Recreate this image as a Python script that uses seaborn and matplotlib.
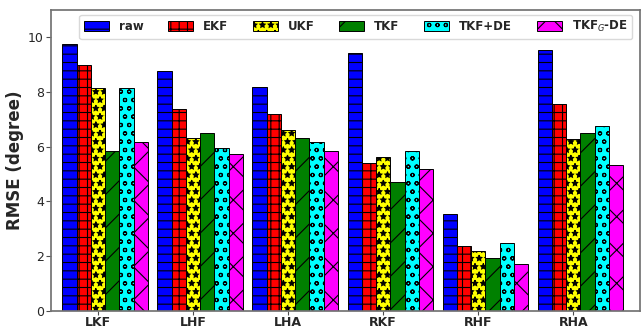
import matplotlib
matplotlib.use("Agg")
import matplotlib.pyplot as plt
import seaborn as sns
import pandas as pd
import numpy as np

sns.set_theme(style="ticks")
plt.rcParams['font.family'] = ['DejaVu Sans']

joints = ['LKF', 'LHF', 'LHA', 'RKF', 'RHF', 'RHA']
methods = ['raw', 'EKF', 'UKF', 'TKF', 'TKF+DE', 'TKF$_G$-DE']

raw = [9.75, 8.76, 8.18, 9.42, 3.54, 9.53]
ekf = [8.98, 7.37, 7.19, 5.40, 2.37, 7.55]
ukf = [8.14, 6.31, 6.60, 5.62, 2.19, 6.28]
tkf = [5.84, 6.50, 6.31, 4.71, 1.93, 6.50]
tkf_de = [8.14, 5.95, 6.17, 5.84, 2.48, 6.75]
tkfg_de = [6.17, 5.73, 5.84, 5.18, 1.72, 5.33]

colors = ['blue', 'red', 'yellow', 'green', 'cyan', 'magenta']
hatches = ['--', '++', '**', '/', 'oo', 'x']

series = [raw, ekf, ukf, tkf, tkf_de, tkfg_de]
df = pd.DataFrame({
    'joint': np.repeat([joints], len(methods), axis=0).ravel(),
    'method': np.repeat(methods, len(joints)),
    'rmse': np.concatenate(series),
})

plt.rcParams['hatch.linewidth'] = 0.8
fig, ax = plt.subplots(figsize=(6.43, 3.29), dpi=100)

sns.barplot(data=df, x='joint', y='rmse', hue='method', order=joints,
            hue_order=methods, palette=colors, width=0.9, saturation=1,
            edgecolor='black', linewidth=0.7, legend=False, ax=ax)

for cont, h in zip(ax.containers, hatches):
    for bar in cont:
        bar.set_hatch(h)

ax.set_xticks(np.arange(len(joints)) - 0.075)
ax.set_xticklabels(joints, fontweight='bold', fontsize=9)
ax.set_xlim(-0.565, 5.625)
ax.set_ylim(0, 11)
ax.set_yticks([0, 2, 4, 6, 8, 10])
ax.tick_params(axis='both', labelsize=9, length=3.5, width=0.8, pad=2,
               color='0.3')
ax.tick_params(axis='x', length=3, pad=0.5)
ax.set_xlabel('')
ax.set_ylabel('RMSE (degree)', fontweight='bold', fontsize=12, labelpad=3)
for s in ax.spines.values():
    s.set_color('0.45')

ax.legend(ax.containers, methods, ncol=6, loc='upper center',
          bbox_to_anchor=(0.517, 1), prop={'weight': 'bold', 'size': 8.5},
          handlelength=2.1, handleheight=0.9, handletextpad=0.85,
          columnspacing=2.1, borderaxespad=0.4, framealpha=1,
          edgecolor='0.85')

fig.subplots_adjust(left=0.08, right=0.995, top=0.97, bottom=0.055)
plt.savefig('out.png')
plt.close()
